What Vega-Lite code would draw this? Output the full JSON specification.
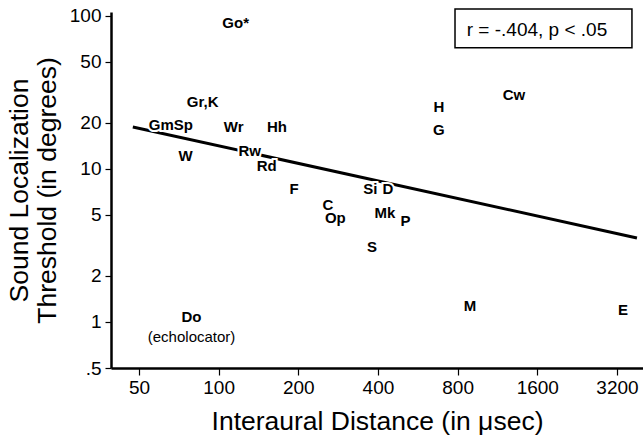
{
  "$schema": "https://vega.github.io/schema/vega-lite/v6.json",
  "width": 532,
  "height": 356,
  "autosize": "none",
  "padding": {"left": 111, "top": 12, "right": 0, "bottom": 74},
  "config": {
    "view": {"stroke": null},
    "font": "Liberation Sans",
    "axis": {
      "grid": false,
      "domainColor": "black",
      "domainWidth": 2.5,
      "tickColor": "black",
      "tickWidth": 1.2,
      "labelColor": "black",
      "labelFont": "Liberation Sans",
      "labelFontSize": 19,
      "titleFont": "Liberation Sans",
      "titleFontSize": 26.5,
      "titleFontWeight": "normal",
      "titleColor": "black",
      "labelFlush": false,
      "labelOverlap": false
    }
  },
  "datasets": {
    "species": [
      {"x": 116, "y": 90, "label": "Go*"},
      {"x": 87, "y": 27.4, "label": "Gr,K"},
      {"x": 66, "y": 19.4, "label": "GmSp"},
      {"x": 114, "y": 18.8, "label": "Wr"},
      {"x": 166, "y": 18.8, "label": "Hh"},
      {"x": 75, "y": 12.2, "label": "W"},
      {"x": 131, "y": 13.1, "label": "Rw"},
      {"x": 152, "y": 10.5, "label": "Rd"},
      {"x": 193, "y": 7.35, "label": "F"},
      {"x": 374, "y": 7.4, "label": "Si"},
      {"x": 436, "y": 7.4, "label": "D"},
      {"x": 259, "y": 5.8, "label": "C"},
      {"x": 276, "y": 4.75, "label": "Op"},
      {"x": 425, "y": 5.16, "label": "Mk"},
      {"x": 508, "y": 4.6, "label": "P"},
      {"x": 380, "y": 3.09, "label": "S"},
      {"x": 680, "y": 25.4, "label": "H"},
      {"x": 680, "y": 18.0, "label": "G"},
      {"x": 1306, "y": 30.5, "label": "Cw"},
      {"x": 891, "y": 1.27, "label": "M"},
      {"x": 3371, "y": 1.2, "label": "E"},
      {"x": 79, "y": 1.07, "label": "Do", "note": "(echolocator)"}
    ],
    "fit": [
      {"x": 47.4, "y": 18.8},
      {"x": 3808, "y": 3.54}
    ],
    "stat": [
      {"label": "r = -.404, p < .05"}
    ]
  },
  "layer": [
    {
      "data": {"name": "fit"},
      "mark": {"type": "line", "color": "black", "strokeWidth": 3},
      "encoding": {
        "x": {
          "field": "x",
          "type": "quantitative",
          "scale": {"type": "log", "domain": [39.2, 4014], "nice": false, "zero": false},
          "axis": {
            "values": [50, 100, 200, 400, 800, 1600, 3200],
            "labelExpr": "format(datum.value, 'd')",
            "tickSize": 7,
            "labelPadding": 3,
            "titlePadding": 11
          },
          "title": "Interaural Distance (in μsec)"
        },
        "y": {
          "field": "y",
          "type": "quantitative",
          "scale": {"type": "log", "domain": [0.5, 106], "nice": false, "zero": false},
          "axis": {
            "values": [0.5, 1, 2, 5, 10, 20, 50, 100],
            "labelExpr": "datum.value == 0.5 ? '.5' : format(datum.value, 'd')",
            "tickSize": 6,
            "labelPadding": 4,
            "titlePadding": 8,
            "titleLineHeight": 28
          },
          "title": ["Sound Localization", "Threshold (in degrees)"]
        }
      }
    },
    {
      "data": {"name": "stat"},
      "mark": {"type": "rect", "fill": "white", "stroke": "black", "strokeWidth": 1.5},
      "encoding": {
        "x": {"datum": 782, "type": "quantitative"},
        "x2": {"datum": 3646},
        "y": {"datum": 111, "type": "quantitative"},
        "y2": {"datum": 61.8}
      }
    },
    {
      "data": {"name": "stat"},
      "mark": {"type": "text", "fontSize": 19, "color": "black", "baseline": "middle", "align": "center"},
      "encoding": {
        "x": {"datum": 1596, "type": "quantitative"},
        "y": {"datum": 81, "type": "quantitative"},
        "text": {"field": "label"}
      }
    },
    {
      "data": {"name": "species"},
      "mark": {"type": "text", "fontSize": 15, "fontWeight": "bold", "fill": "white", "stroke": "white", "strokeWidth": 4, "baseline": "middle", "align": "center"},
      "encoding": {
        "x": {"field": "x", "type": "quantitative"},
        "y": {"field": "y", "type": "quantitative"},
        "text": {"field": "label"}
      }
    },
    {
      "data": {"name": "species"},
      "mark": {"type": "text", "fontSize": 15, "fontWeight": "bold", "color": "black", "baseline": "middle", "align": "center"},
      "encoding": {
        "x": {"field": "x", "type": "quantitative"},
        "y": {"field": "y", "type": "quantitative"},
        "text": {"field": "label"}
      }
    },
    {
      "data": {"name": "species"},
      "transform": [{"filter": "datum.note"}],
      "mark": {"type": "text", "fontSize": 15, "color": "black", "baseline": "middle", "align": "center", "dy": 20},
      "encoding": {
        "x": {"field": "x", "type": "quantitative"},
        "y": {"field": "y", "type": "quantitative"},
        "text": {"field": "note"}
      }
    }
  ]
}
